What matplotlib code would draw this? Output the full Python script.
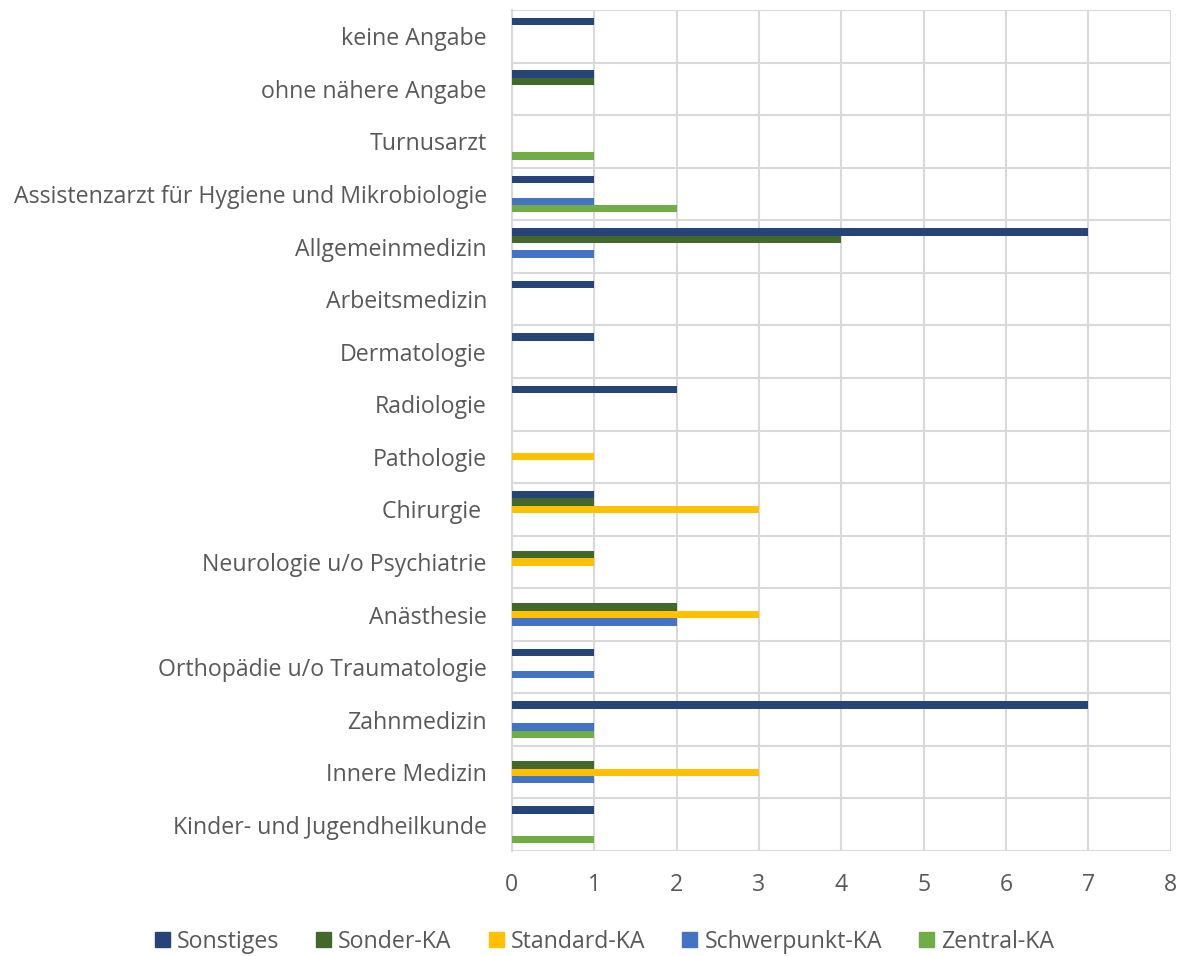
import numpy as np
import matplotlib.pyplot as plt
from matplotlib.patches import Patch

# categories from top to bottom
kategorien = ["keine Angabe", "ohne nähere Angabe", "Turnusarzt",
              "Assistenzarzt für Hygiene und Mikrobiologie", "Allgemeinmedizin",
              "Arbeitsmedizin", "Dermatologie", "Radiologie", "Pathologie",
              "Chirurgie ", "Neurologie u/o Psychiatrie", "Anästhesie",
              "Orthopädie u/o Traumatologie", "Zahnmedizin", "Innere Medizin",
              "Kinder- und Jugendheilkunde"]

sonstiges   = [1, 1, 0, 1, 7, 1, 1, 2, 0, 1, 0, 0, 1, 7, 0, 1]
sonder_ka   = [0, 1, 0, 0, 4, 0, 0, 0, 0, 1, 1, 2, 0, 0, 1, 0]
standard_ka = [0, 0, 0, 0, 0, 0, 0, 0, 1, 3, 1, 3, 0, 0, 3, 0]
schwerp_ka  = [0, 0, 0, 1, 1, 0, 0, 0, 0, 0, 0, 2, 1, 1, 1, 0]
zentral_ka  = [0, 0, 1, 2, 0, 0, 0, 0, 0, 0, 0, 0, 0, 1, 0, 1]

serien = ["Sonstiges", "Sonder-KA", "Standard-KA", "Schwerpunkt-KA", "Zentral-KA"]
werte = [sonstiges, sonder_ka, standard_ka, schwerp_ka, zentral_ka]
farben = ["#264478", "#43682B", "#FFC000", "#4472C4", "#70AD47"]

plt.rcParams['font.family'] = ['Open Sans', 'DejaVu Sans']
textfarbe = "#595959"
fs = 16.7

fig = plt.figure(figsize=(11.85, 9.56), dpi=100)
ax = fig.add_axes([0.432, 0.1098, 0.556, 0.8797])

n = len(kategorien)
pos = np.arange(n)  # 0 = top
h = 0.14
for i, (name, w, c) in enumerate(zip(serien, werte, farben)):
    y = pos + (i - 2) * h
    ax.barh(y, w, height=h, color=c, label=name, zorder=3)

ax.set_ylim(n - 0.5, -0.5)
ax.set_xlim(0, 8)
ax.set_yticks(pos)
ax.set_yticklabels(kategorien)
ax.set_yticks(np.arange(-0.5, n, 1), minor=True)
ax.set_xticks(range(9))
ax.tick_params(axis='y', which='both', length=0, labelsize=fs, labelcolor=textfarbe, pad=18)
ax.tick_params(axis='x', length=0, labelsize=fs, labelcolor=textfarbe, pad=16)
ax.grid(axis='x', color="#D9D9D9", linewidth=1.5, zorder=0)
ax.grid(axis='y', which='minor', color="#D9D9D9", linewidth=1.5, zorder=0)
ax.grid(axis='y', which='major', visible=False)
for s in ['top', 'right', 'bottom']:
    ax.spines[s].set_visible(False)
ax.spines['left'].set_color("#D9D9D9")
ax.spines['left'].set_linewidth(1.5)

handles = [Patch(color=c, label=s) for s, c in zip(serien, farben)]
fig.legend(handles=handles, loc='center', bbox_to_anchor=(0.51, 0.015), ncol=5,
           frameon=False, fontsize=fs, labelcolor=textfarbe, handlelength=0.65,
           handleheight=0.65, handletextpad=0.3, columnspacing=1.6)

fig.savefig("out.png", dpi=100)
